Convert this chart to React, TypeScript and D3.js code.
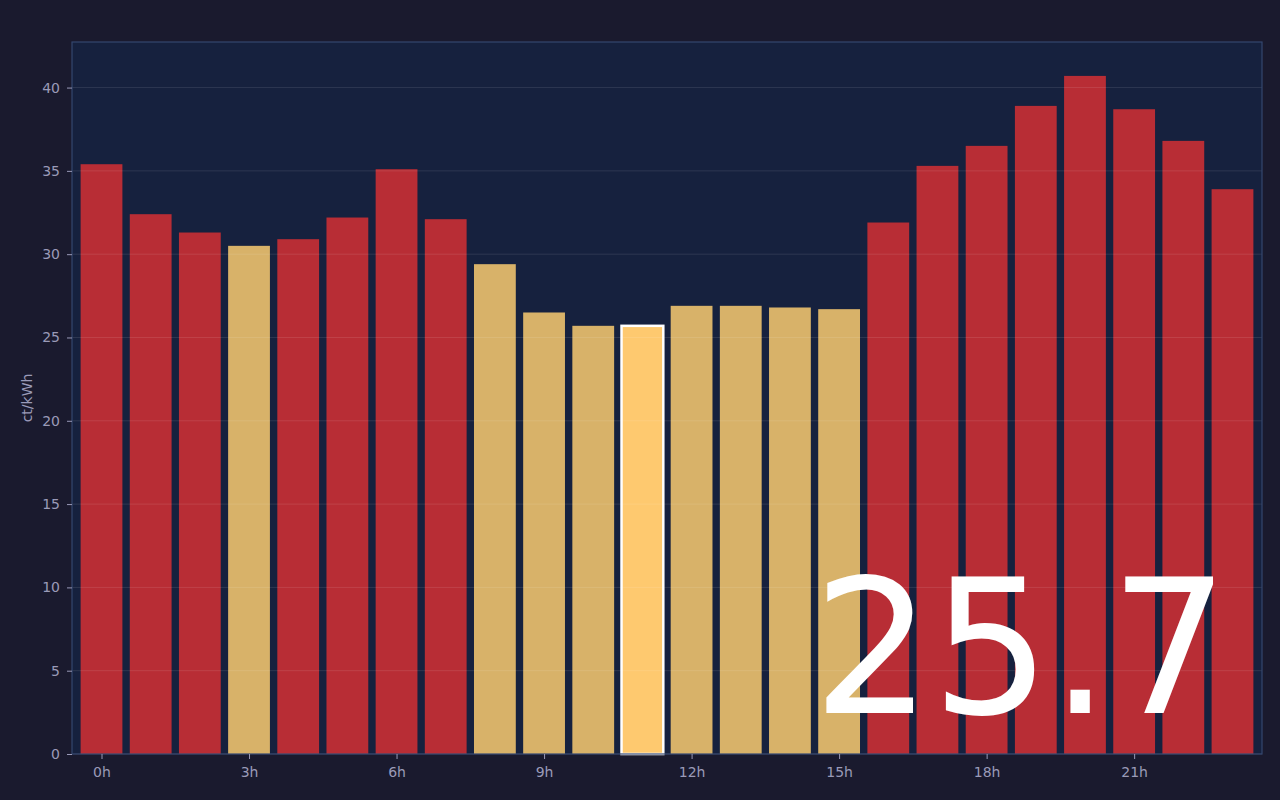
import { useEffect, useRef } from "react";
import * as d3 from "d3";

// hourly price, ct/kWh
const hours = d3.range(24);
const prices = [
  35.4, 32.4, 31.3, 30.5, 30.9, 32.2, 35.1, 32.1, 29.4, 26.5, 25.7, 25.7,
  26.9, 26.9, 26.8, 26.7, 31.9, 35.3, 36.5, 38.9, 40.7, 38.7, 36.8, 33.9,
];
const cheapHours = [3, 8, 9, 10, 11, 12, 13, 14, 15];
const currentHour = 11;
const xTickHours = [0, 3, 6, 9, 12, 15, 18, 21];
const yTicks = [0, 5, 10, 15, 20, 25, 30, 35, 40];

const width = 1280;
const height = 800;
const margin = { top: 42, right: 18, bottom: 46, left: 72 };

const App = () => {
  const gx = useRef<SVGGElement | null>(null);
  const gy = useRef<SVGGElement | null>(null);

  const x = d3
    .scaleLinear()
    .domain([-0.6, 23.6])
    .range([margin.left, width - margin.right]);

  const y = d3
    .scaleLinear()
    .domain([0, (d3.max(prices) as number) * 1.05])
    .range([height - margin.bottom, margin.top]);

  const barW = x(0.85) - x(0);

  useEffect(() => {
    if (gx.current) {
      const g = d3.select(gx.current);
      g.call(
        d3
          .axisBottom(x)
          .tickValues(xTickHours)
          .tickSize(5)
          .tickPadding(8)
          .tickFormat((d) => `${d}h`)
      );
      g.select(".domain").remove();
      g.selectAll(".tick line").attr("stroke", "#9a9ab8");
      g.selectAll(".tick text")
        .attr("fill", "#9a9ab8")
        .attr("font-size", 14)
        .attr("font-family", "DejaVu Sans");
    }
    if (gy.current) {
      const g = d3.select(gy.current);
      g.call(d3.axisLeft(y).tickValues(yTicks).tickSize(5).tickPadding(7));
      g.select(".domain").remove();
      g.selectAll(".tick line").attr("stroke", "#9a9ab8");
      g.selectAll(".tick text")
        .attr("fill", "#9a9ab8")
        .attr("font-size", 14)
        .attr("font-family", "DejaVu Sans");
    }
  }, []);

  const plotW = width - margin.left - margin.right;
  const plotH = height - margin.top - margin.bottom;

  return (
    <svg
      width={width}
      height={height}
      style={{ position: "absolute", left: 0, top: 0, display: "block" }}
    >
      <rect width={width} height={height} fill="#1a1a2e" />
      <rect
        x={margin.left}
        y={margin.top}
        width={plotW}
        height={plotH}
        fill="#16213e"
      />
      {hours.map((h) => {
        const v = prices[h];
        const isNow = h === currentHour;
        const cheap = cheapHours.includes(h);
        return (
          <rect
            key={h}
            x={x(h) - barW / 2}
            y={y(v)}
            width={barW}
            height={y(0) - y(v)}
            fill={isNow ? "#fec96f" : cheap ? "#d8b269" : "#b82d35"}
            stroke={isNow ? "#ffffff" : "none"}
            strokeWidth={isNow ? 2.5 : 0}
          />
        );
      })}
      {yTicks.map((t) => (
        <line
          key={t}
          x1={margin.left}
          x2={width - margin.right}
          y1={y(t)}
          y2={y(t)}
          stroke="#ffffff"
          strokeOpacity={0.1}
        />
      ))}
      <text
        x={1229}
        y={713}
        textAnchor="end"
        fill="#ffffff"
        fontSize={187}
        fontFamily="DejaVu Sans"
      >
        {prices[currentHour].toFixed(1)}
      </text>
      <rect
        x={margin.left}
        y={margin.top}
        width={plotW}
        height={plotH}
        fill="none"
        stroke="#34466e"
        strokeWidth={1.2}
      />
      <g ref={gx} transform={`translate(0,${height - margin.bottom})`} />
      <g ref={gy} transform={`translate(${margin.left},0)`} />
      <text
        transform={`translate(32,${margin.top + plotH / 2}) rotate(-90)`}
        textAnchor="middle"
        fill="#9a9ab8"
        fontSize={14}
        fontFamily="DejaVu Sans"
      >
        ct/kWh
      </text>
    </svg>
  );
};

export default App;
